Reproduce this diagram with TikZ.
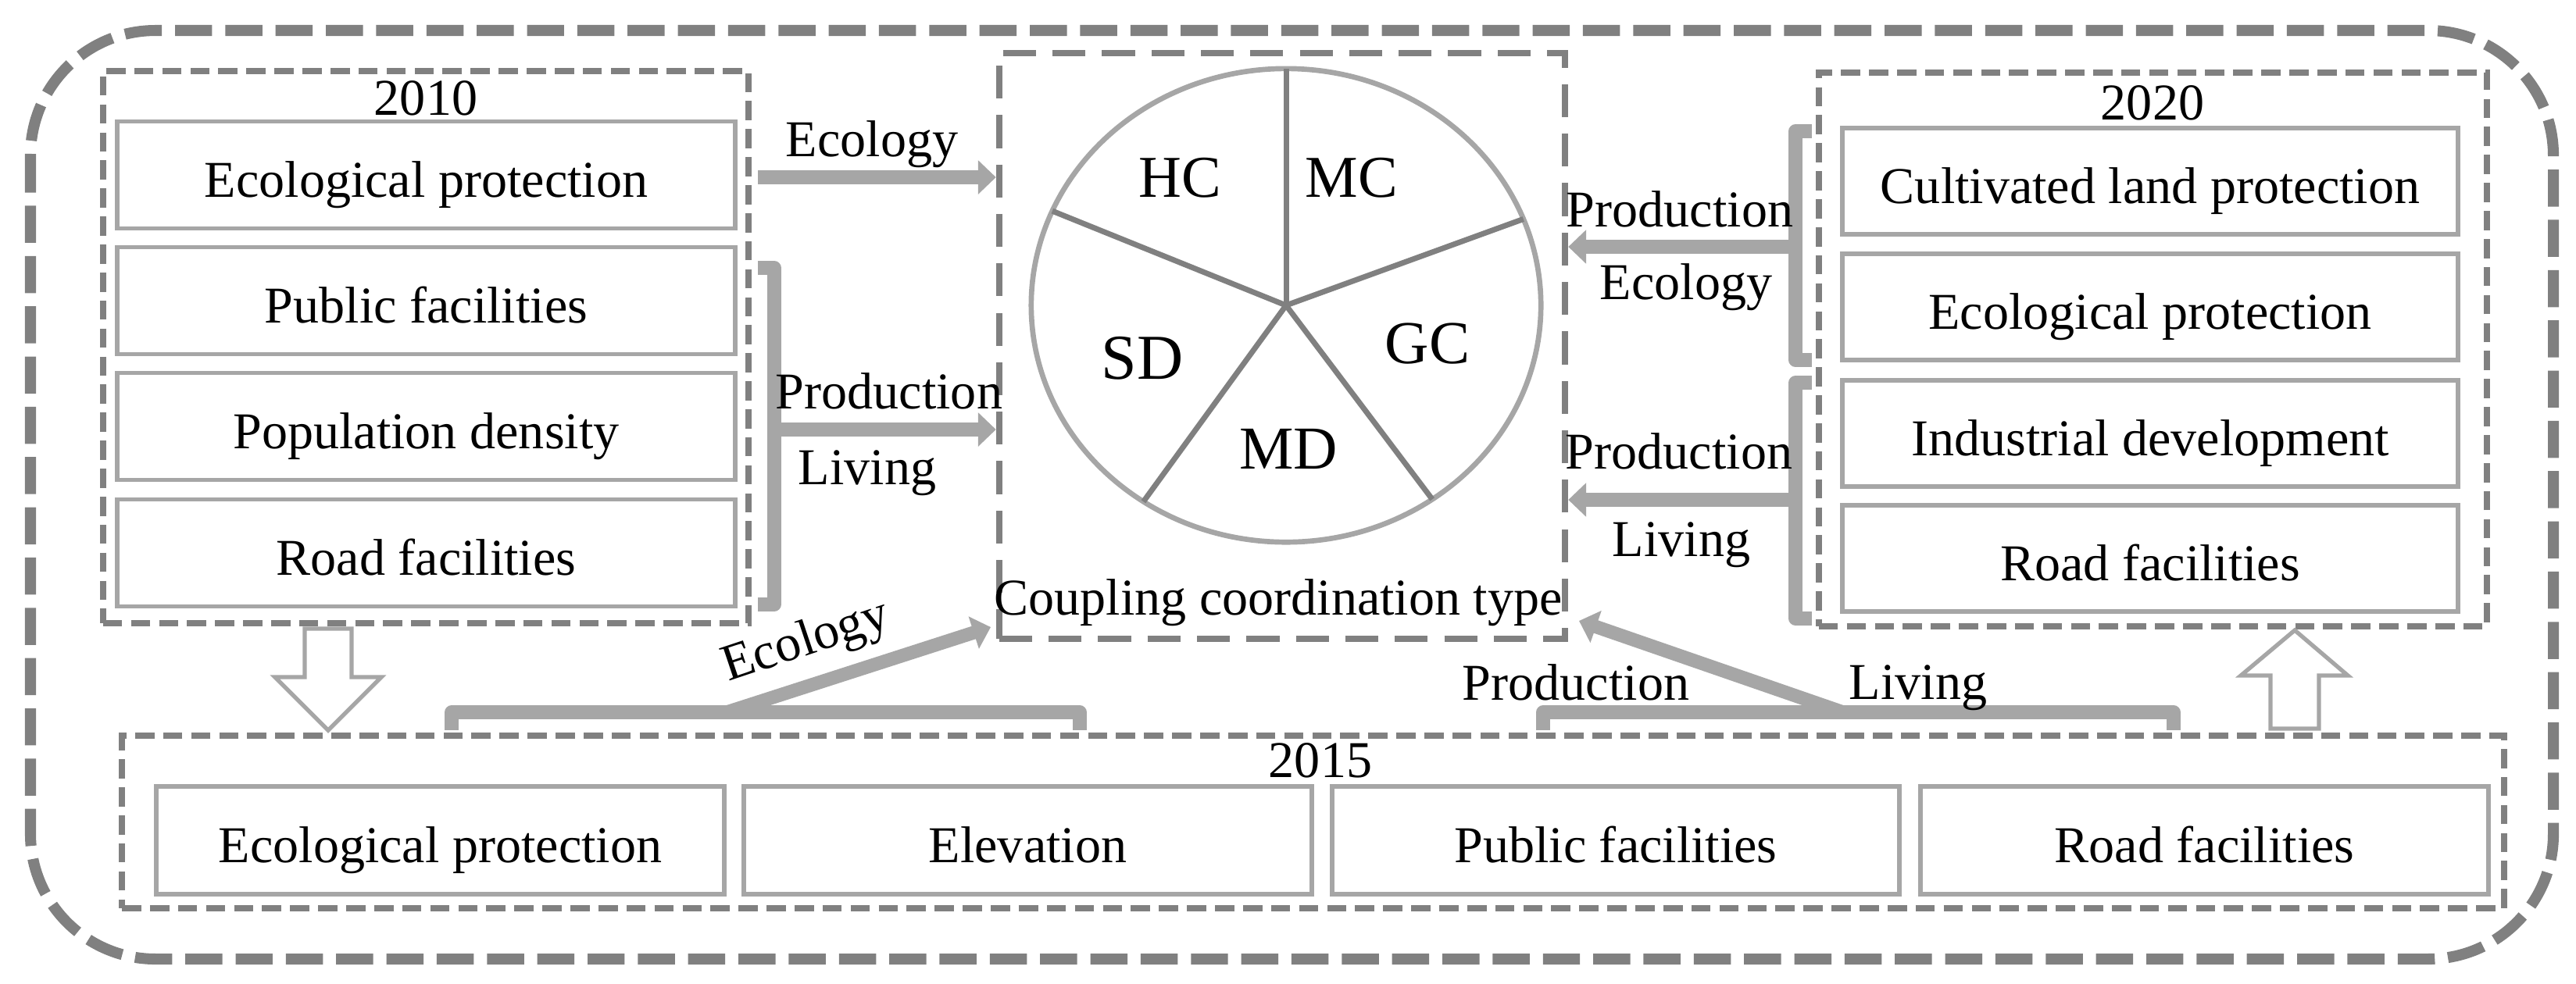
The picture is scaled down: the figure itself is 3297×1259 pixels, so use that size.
\documentclass[tikz,border=0pt]{standalone}
\usepackage{fontspec}
\setmainfont{Liberation Serif}
\usetikzlibrary{arrows.meta,shapes.geometric}
\definecolor{dg}{HTML}{808080}
\definecolor{lg}{HTML}{A6A6A6}
\newcommand\mf{\fontsize{18.8pt}{22pt}\selectfont}
\tikzset{
  outerbox/.style={draw=dg, line width=4pt, dash pattern=on 13.5pt off 4.8pt, rounded corners=1.6cm},
  grpbox/.style={draw=dg, line width=2.3pt, dash pattern=on 7pt off 3.2pt, inner sep=0, outer sep=0},
  cenbox/.style={draw=dg, line width=2.3pt, dash pattern=on 12pt off 6pt, inner sep=0},
  ibox/.style={draw=lg, line width=1.6pt, inner sep=0, outer sep=0, font=\mf, text height=17pt, text depth=1pt},
  lab/.style={anchor=base, inner sep=0, font=\mf},
  brk/.style={draw=lg, line width=4.9pt, line join=round},
  arr/.style={draw=lg, line width=4.9pt, -{Triangle[length=6.5pt,width=12pt]}},
  hollow/.style={draw=lg, line width=1.5pt, fill=white, line join=miter},
  spoke/.style={draw=dg, line width=2pt},
  pielab/.style={anchor=base, inner sep=0}
}
\begin{document}
\begin{tikzpicture}[x=0.01cm,y=-0.01cm]
\useasboundingbox (0,0) rectangle (3297,1259);
% outer frame
\draw[outerbox] (39,39) rectangle (3268,1228);

% 2010 group
\node[grpbox, minimum width=8.26cm, minimum height=7.07cm] (g10) at (545,444.5) {};
\node[lab] (t10) at (545,147) {2010};
\node[ibox, minimum width=7.91cm, minimum height=1.37cm] (a1) at (545.5,224) {Ecological protection};
\node[ibox, minimum width=7.91cm, minimum height=1.37cm] (a2) at (545.5,385) {Public facilities};
\node[ibox, minimum width=7.91cm, minimum height=1.37cm] (a3) at (545.5,546) {Population density};
\node[ibox, minimum width=7.91cm, minimum height=1.37cm] (a4) at (545.5,708) {Road facilities};

% 2020 group
\node[grpbox, minimum width=8.55cm, minimum height=7.09cm] (g20) at (2755.5,447.5) {};
\node[lab] (t20) at (2755,153) {2020};
\node[ibox, minimum width=7.88cm, minimum height=1.36cm] (c1) at (2752,232) {Cultivated land protection};
\node[ibox, minimum width=7.88cm, minimum height=1.36cm] (c2) at (2752,393) {Ecological protection};
\node[ibox, minimum width=7.88cm, minimum height=1.36cm] (c3) at (2752,555) {Industrial development};
\node[ibox, minimum width=7.88cm, minimum height=1.36cm] (c4) at (2752,715) {Road facilities};

% 2015 group
\node[grpbox, minimum width=30.47cm, minimum height=2.21cm] (g15) at (1680.5,1052.5) {};
\node[lab] (t15) at (1690,995) {2015};
\node[ibox, minimum width=7.27cm, minimum height=1.38cm] (b1) at (563.5,1076) {Ecological protection};
\node[ibox, minimum width=7.27cm, minimum height=1.38cm] (b2) at (1315.5,1076) {Elevation};
\node[ibox, minimum width=7.26cm, minimum height=1.38cm] (b3) at (2068,1076) {Public facilities};
\node[ibox, minimum width=7.27cm, minimum height=1.38cm] (b4) at (2821.5,1076) {Road facilities};

% centre box with pie
\node[cenbox, minimum width=7.24cm, minimum height=7.50cm] (cbox) at (1641,443) {};
\node[draw=lg, line width=1.9pt, ellipse, minimum width=6.52cm, minimum height=6.06cm, inner sep=0, outer sep=0] (pie) at (1646,391) {};
\draw[spoke] (pie.center) -- (pie.90);
\draw[spoke] (pie.center) -- (pie.158);
\draw[spoke] (pie.center) -- (pie.20.8);
\draw[spoke] (pie.center) -- (pie.234.8);
\draw[spoke] (pie.center) -- (pie.307.4);
\node[pielab, font=\fontsize{21.6pt}{24pt}\selectfont] (hc) at (1510,252) {HC};
\node[pielab, font=\fontsize{21.6pt}{24pt}\selectfont] (mc) at (1730,252) {MC};
\node[pielab, font=\fontsize{23.3pt}{26pt}\selectfont] (sd) at (1462,485) {SD};
\node[pielab, font=\fontsize{22.2pt}{25pt}\selectfont] (gc) at (1827,465) {GC};
\node[pielab, font=\fontsize{22.2pt}{25pt}\selectfont] (md) at (1649,600) {MD};
\node[lab] (ctype) at (1636,787) {Coupling coordination type};

% 2010 -> centre
\coordinate (e1) at (970,227);
\draw[arr] (e1) -- (e1 -| cbox.west);
\node[lab] (le1) at (1116,200) {Ecology};
\draw[brk] (970,343) -- (991,343) -- (991,774) -- (970,774);
\coordinate (lb) at (991,550);
\draw[arr] (lb) -- (lb -| cbox.west);
\node[lab] (lp1) at (1138,523) {Production};
\node[lab] (ll1) at (1110,620) {Living};

% 2020 -> centre
\draw[brk] (2319,168) -- (2298,168) -- (2298,461) -- (2319,461);
\coordinate (rb1) at (2298,316);
\draw[arr] (rb1) -- (rb1 -| cbox.east);
\node[lab] (rp1) at (2150,290) {Production};
\node[lab] (re1) at (2158,383) {Ecology};
\draw[brk] (2319,490) -- (2298,490) -- (2298,792) -- (2319,792);
\coordinate (rb2) at (2298,640);
\draw[arr] (rb2) -- (rb2 -| cbox.east);
\node[lab] (rp2) at (2149,600) {Production};
\node[lab] (rl2) at (2152,712) {Living};

% 2015 -> centre
\draw[brk] (578,935) -- (578,912) -- (1382,912) -- (1382,935);
\coordinate (bl0) at (930,912);
\coordinate (bl1) at (1268,803);
\draw[arr] (bl0) -- (bl1);
\node[font=\mf, inner sep=0, rotate=18.5] (be1) at (1032,823) {Ecology};
\draw[brk] (1975,935) -- (1975,912) -- (2782,912) -- (2782,935);
\coordinate (br0) at (2359,912);
\coordinate (br1) at (2021,795);
\draw[arr] (br0) -- (br1);
\node[lab] (bp1) at (2017,896) {Production};
\node[lab] (bl2) at (2455,895) {Living};

% hollow transition arrows
\draw[hollow] (390,805) -- (450,805) -- (450,867) -- (488,867) -- (420,935) -- (352,867) -- (390,867) -- cycle;
\draw[hollow] (2906,933) -- (2968,933) -- (2968,865) -- (3005,865) -- (2937,807) -- (2868,865) -- (2906,865) -- cycle;
\end{tikzpicture}
\end{document}
